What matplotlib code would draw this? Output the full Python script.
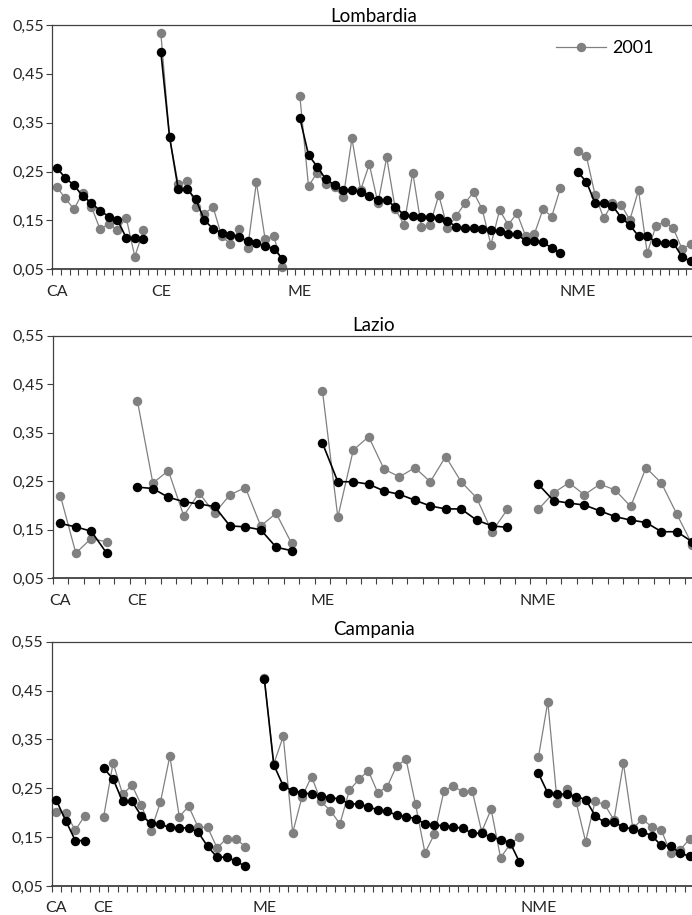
import numpy as np
import matplotlib
matplotlib.use("Agg")
import matplotlib.pyplot as plt
from matplotlib.ticker import FixedLocator, FixedFormatter, NullFormatter, FuncFormatter

plt.rcParams["font.family"] = ["Lato", "DejaVu Sans"]

group_names = ["CA", "CE", "ME", "NME"]

# Lombardia
lomb_ca_2001 = [0.219, 0.195, 0.173, 0.207, 0.178, 0.132, 0.143, 0.130, 0.156, 0.076, 0.130]
lomb_ce_2001 = [0.533, 0.320, 0.224, 0.231, 0.177, 0.163, 0.178, 0.118, 0.102, 0.132, 0.094,
                0.228, 0.112, 0.118, 0.055]
lomb_me_2001 = [0.405, 0.220, 0.248, 0.225, 0.218, 0.197, 0.318, 0.212, 0.265, 0.185, 0.279,
                0.173, 0.141, 0.248, 0.137, 0.141, 0.202, 0.134, 0.159, 0.185, 0.208, 0.173,
                0.100, 0.171, 0.141, 0.165, 0.118, 0.122, 0.173, 0.158, 0.216]
lomb_nme_2001 = [0.293, 0.281, 0.202, 0.154, 0.186, 0.182, 0.151, 0.212, 0.083, 0.139, 0.147,
                 0.134, 0.092, 0.101]
lomb_ca_2011 = [0.258, 0.237, 0.222, 0.200, 0.186, 0.170, 0.158, 0.151, 0.115, 0.115, 0.113]
lomb_ce_2011 = [0.495, 0.321, 0.214, 0.214, 0.194, 0.151, 0.133, 0.125, 0.120, 0.117, 0.107,
                0.104, 0.098, 0.092, 0.072]
lomb_me_2011 = [0.360, 0.284, 0.260, 0.234, 0.223, 0.212, 0.212, 0.208, 0.200, 0.192, 0.191,
                0.178, 0.161, 0.159, 0.158, 0.158, 0.154, 0.149, 0.137, 0.134, 0.134, 0.133,
                0.131, 0.128, 0.123, 0.122, 0.108, 0.108, 0.106, 0.093, 0.083]
lomb_nme_2011 = [0.249, 0.229, 0.185, 0.185, 0.180, 0.156, 0.140, 0.118, 0.118, 0.106, 0.104,
                 0.104, 0.076, 0.066]

# Lazio
lazio_ca_2001 = [0.220, 0.102, 0.132, 0.125]
lazio_ce_2001 = [0.415, 0.246, 0.272, 0.179, 0.226, 0.184, 0.222, 0.237, 0.158, 0.184, 0.122]
lazio_me_2001 = [0.437, 0.176, 0.314, 0.342, 0.275, 0.259, 0.278, 0.249, 0.301, 0.249, 0.216,
                 0.146, 0.192]
lazio_nme_2001 = [0.192, 0.226, 0.247, 0.222, 0.244, 0.232, 0.198, 0.278, 0.246, 0.182, 0.119]
lazio_ca_2011 = [0.163, 0.156, 0.147, 0.102]
lazio_ce_2011 = [0.238, 0.235, 0.217, 0.208, 0.203, 0.198, 0.158, 0.156, 0.150, 0.114, 0.107]
lazio_me_2011 = [0.329, 0.249, 0.249, 0.244, 0.230, 0.223, 0.211, 0.199, 0.193, 0.193, 0.170,
                 0.158, 0.155]
lazio_nme_2011 = [0.244, 0.210, 0.205, 0.201, 0.189, 0.177, 0.170, 0.165, 0.146, 0.146, 0.125]

# Campania
camp_ca_2001 = [0.202, 0.199, 0.164, 0.194]
camp_ce_2001 = [0.192, 0.302, 0.238, 0.256, 0.215, 0.163, 0.221, 0.316, 0.192, 0.213, 0.170,
                0.170, 0.128, 0.147, 0.147, 0.130]
camp_me_2001 = [0.475, 0.300, 0.356, 0.159, 0.233, 0.274, 0.223, 0.204, 0.177, 0.246, 0.268,
                0.286, 0.241, 0.253, 0.296, 0.309, 0.217, 0.118, 0.156, 0.244, 0.255, 0.242,
                0.245, 0.161, 0.207, 0.108, 0.135, 0.151]
camp_nme_2001 = [0.313, 0.427, 0.219, 0.248, 0.221, 0.141, 0.223, 0.217, 0.185, 0.301, 0.168,
                 0.187, 0.171, 0.165, 0.117, 0.124, 0.146]
camp_ca_2011 = [0.225, 0.183, 0.143, 0.143]
camp_ce_2011 = [0.291, 0.269, 0.223, 0.223, 0.193, 0.179, 0.176, 0.170, 0.169, 0.169, 0.160,
                0.131, 0.109, 0.109, 0.101, 0.090]
camp_me_2011 = [0.474, 0.298, 0.255, 0.245, 0.241, 0.238, 0.234, 0.231, 0.228, 0.218, 0.218,
                0.212, 0.206, 0.203, 0.195, 0.192, 0.188, 0.177, 0.175, 0.173, 0.171, 0.168,
                0.158, 0.158, 0.150, 0.145, 0.139, 0.099]
camp_nme_2011 = [0.281, 0.240, 0.238, 0.238, 0.233, 0.227, 0.194, 0.180, 0.180, 0.171, 0.166,
                 0.161, 0.153, 0.133, 0.132, 0.117, 0.111]

W, H = 692, 915


# mette i gruppi uno dopo l'altro, con una categoria vuota tra un gruppo e l'altro
def build_series(groups):
    vals, labels = [], []
    for name, g in zip(group_names, groups):
        if vals:
            vals.append(np.nan)
            labels.append("")
        vals += g
        labels += [name] + [""] * (len(g) - 1)
    return np.array(vals, dtype=float), labels


def draw_panel(fig, title, groups_2001, groups_2011, left, top, right, bottom, title_y):
    ax = fig.add_axes([left / W, 1 - bottom / H, (right - left) / W, (bottom - top) / H])
    v2001, labels = build_series(groups_2001)
    v2011, _ = build_series(groups_2011)
    n = len(labels)
    x = np.arange(n)

    ax.plot(x, v2001, color="#808080", lw=0.9, marker="o", ms=6.8, mew=0,
            clip_on=False, zorder=2, label="2001")
    ax.plot(x, v2011, color="black", lw=1.2, marker="o", ms=6.8, mew=0,
            clip_on=False, zorder=3)

    ax.set_xlim(-0.5, n - 0.5)
    ax.set_ylim(0.05, 0.55)

    # tacche tra le categorie, etichette solo sul primo elemento di ogni gruppo
    ax.xaxis.set_major_locator(FixedLocator(np.arange(n + 1) - 0.5))
    ax.xaxis.set_major_formatter(NullFormatter())
    pos = [i for i, s in enumerate(labels) if s]
    ax.xaxis.set_minor_locator(FixedLocator(pos))
    ax.xaxis.set_minor_formatter(FixedFormatter([labels[i] for i in pos]))
    ax.tick_params(axis="x", which="major", length=4, width=0.8, color="#404040")
    ax.tick_params(axis="x", which="minor", length=0, pad=11, labelsize=11.5,
                   labelcolor="#262626")

    ax.set_yticks(np.arange(0.05, 0.56, 0.1))
    ax.yaxis.set_major_formatter(FuncFormatter(lambda v, p: f"{v:.2f}".replace(".", ",")))
    ax.tick_params(axis="y", length=4, width=0.8, pad=2, labelsize=11.5,
                   labelcolor="#262626", color="#404040")

    ax.spines["right"].set_visible(False)
    ax.spines["top"].set_color("#404040")
    ax.spines["top"].set_linewidth(0.9)
    ax.spines["left"].set_color("#404040")
    ax.spines["left"].set_linewidth(0.9)
    ax.spines["bottom"].set_color("#404040")
    ax.spines["bottom"].set_linewidth(1.3)

    fig.text(374 / W, 1 - title_y / H, title, ha="center", va="baseline",
             fontsize=13.5, color="black")
    return ax


fig = plt.figure(figsize=(W / 100, H / 100), dpi=100)

ax1 = draw_panel(fig, "Lombardia",
                 [lomb_ca_2001, lomb_ce_2001, lomb_me_2001, lomb_nme_2001],
                 [lomb_ca_2011, lomb_ce_2011, lomb_me_2011, lomb_nme_2011],
                 52.3, 25, 695, 269.3, 22)
draw_panel(fig, "Lazio",
           [lazio_ca_2001, lazio_ce_2001, lazio_me_2001, lazio_nme_2001],
           [lazio_ca_2011, lazio_ce_2011, lazio_me_2011, lazio_nme_2011],
           52.7, 335.7, 700, 578.3, 331)
draw_panel(fig, "Campania",
           [camp_ca_2001, camp_ce_2001, camp_me_2001, camp_nme_2001],
           [camp_ca_2011, camp_ce_2011, camp_me_2011, camp_nme_2011],
           51.7, 641.7, 694.3, 886, 635)

ax1.legend(loc="center left", bbox_to_anchor=(547 / W, 1 - 48 / H),
           bbox_transform=fig.transFigure, frameon=False, borderpad=0,
           handlelength=2.75, handletextpad=0.35, fontsize=13)

fig.savefig("out.png", dpi=100)
